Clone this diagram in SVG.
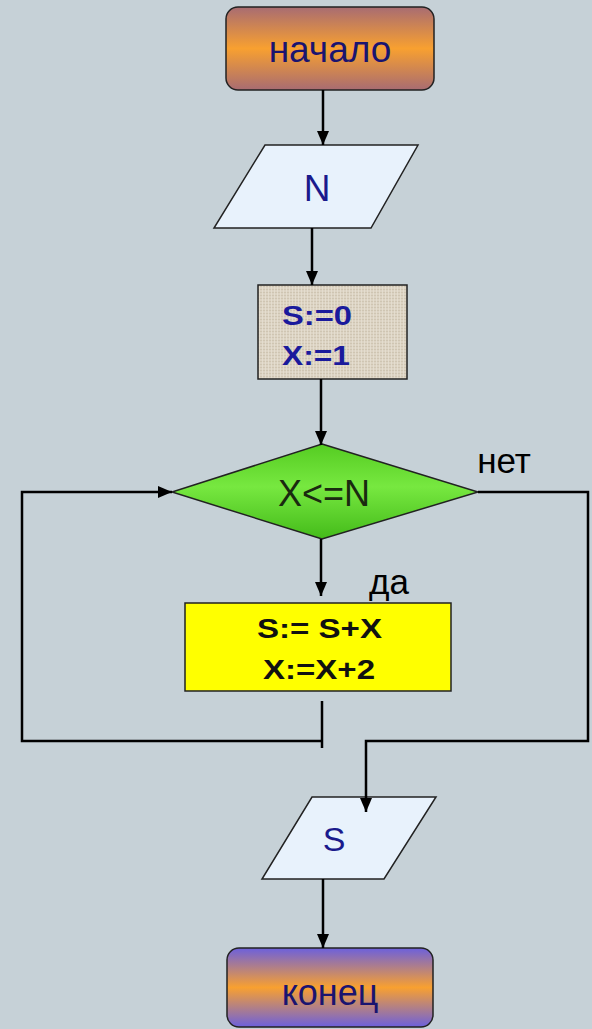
<svg xmlns="http://www.w3.org/2000/svg" width="592" height="1029" viewBox="0 0 592 1029">
<defs>
<linearGradient id="gStart" x1="0" y1="0" x2="0" y2="1">
<stop offset="0" stop-color="#a86c72"/>
<stop offset="0.5" stop-color="#f8a030"/>
<stop offset="1" stop-color="#a86c72"/>
</linearGradient>
<linearGradient id="gEnd" x1="0" y1="0" x2="0" y2="1">
<stop offset="0" stop-color="#6c60dc"/>
<stop offset="0.5" stop-color="#f8a030"/>
<stop offset="1" stop-color="#6c60dc"/>
</linearGradient>
<linearGradient id="gDia" x1="0" y1="0" x2="0" y2="1">
<stop offset="0" stop-color="#55cc22"/>
<stop offset="0.45" stop-color="#77e840"/>
<stop offset="1" stop-color="#44bb1a"/>
</linearGradient>
<pattern id="burlap" width="6" height="6" patternUnits="userSpaceOnUse">
<rect width="6" height="6" fill="#dcd3c3"/>
<path d="M0 1.5H6M0 4.5H6" stroke="#cfc5b2" stroke-width="1"/>
<path d="M1.5 0V6M4.5 0V6" stroke="#e6dfd2" stroke-width="0.8"/>
</pattern>
<marker id="arr" viewBox="0 0 14 12" refX="14" refY="6" markerWidth="14" markerHeight="12" markerUnits="userSpaceOnUse" orient="auto">
<path d="M0 0L14 6L0 12Z" fill="#000"/>
</marker>
<style>
.ln{fill:none;stroke:#000;stroke-width:2.5}
.sh{stroke:#222;stroke-width:1.5}
.io{fill:#e8f2fc;stroke:#222;stroke-width:1.5}
.t{font-family:"Liberation Sans",Arial,sans-serif;text-anchor:middle}
.b{font-family:"Liberation Sans",Arial,sans-serif;font-weight:bold}
</style>
</defs>
<rect width="592" height="1029" fill="#c6d1d7"/>
<g id="start">
<rect class="sh" x="226" y="7" width="208" height="83" rx="12" fill="url(#gStart)"/>
<text class="t" x="330" y="62" font-size="37" fill="#1a1470">начало</text>
</g>
<g id="inputN">
<path class="io" d="M265 145H418L371 228H214Z"/>
<text class="t" x="317" y="201" font-size="37" fill="#1a1a8c">N</text>
</g>
<g id="init">
<rect class="sh" x="258" y="285" width="149" height="94" fill="url(#burlap)"/>
<text class="b" x="282" y="325" font-size="28" fill="#1a1a9c" textLength="70" lengthAdjust="spacingAndGlyphs">S:=0</text>
<text class="b" x="282" y="365" font-size="28" fill="#1a1a9c" textLength="68" lengthAdjust="spacingAndGlyphs">X:=1</text>
</g>
<g id="cond">
<path class="sh" d="M322 444L478 492L322 539L172 492Z" fill="url(#gDia)"/>
<text class="t" x="324" y="506" font-size="36" fill="#1a2a10">X&lt;=N</text>
</g>
<g id="body">
<rect class="sh" x="185" y="603" width="266" height="88" fill="#ffff00"/>
<text class="b" x="257" y="638" font-size="28" fill="#111" textLength="125" lengthAdjust="spacingAndGlyphs">S:= S+X</text>
<text class="b" x="263" y="679" font-size="28" fill="#111" textLength="112" lengthAdjust="spacingAndGlyphs">X:=X+2</text>
</g>
<g id="outputS">
<path class="io" d="M312 797H436L384 879H262Z"/>
<text class="t" x="334" y="851" font-size="34" fill="#1a1a8c">S</text>
</g>
<g id="end">
<rect class="sh" x="227" y="948" width="206" height="79" rx="12" fill="url(#gEnd)"/>
<text class="t" x="330" y="1005" font-size="36" fill="#1a1470">конец</text>
</g>
<g id="connectors">
<path class="ln" d="M323 90V145" marker-end="url(#arr)"/>
<path class="ln" d="M312 228V285" marker-end="url(#arr)"/>
<path class="ln" d="M321 379V445" marker-end="url(#arr)"/>
<path class="ln" d="M321 539V596" marker-end="url(#arr)"/>
<path class="ln" d="M322 701V748M322 741H22V492H172" marker-end="url(#arr)"/>
<path class="ln" d="M478 492H588V741H366V812" marker-end="url(#arr)"/>
<path class="ln" d="M323 879V948" marker-end="url(#arr)"/>
<text class="t" x="504" y="473" font-size="35" fill="#000">нет</text>
<text class="t" x="389" y="594" font-size="35" fill="#000">да</text>
</g>
</svg>
